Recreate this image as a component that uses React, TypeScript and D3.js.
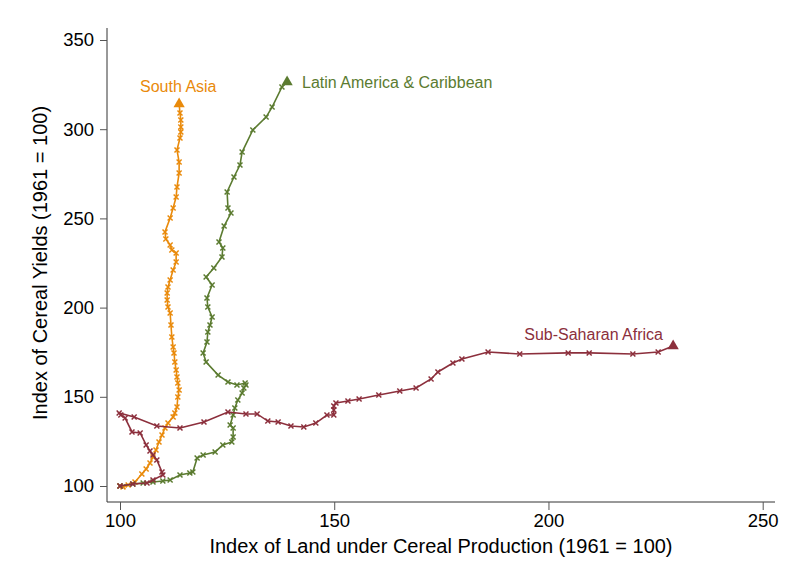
import React, { useEffect, useRef } from 'react';
import * as d3 from 'd3';

// [land index, yield index] per year
const southAsia: [number, number][] = [
  [100, 100], [100.7, 99.5], [101.9, 100.6], [103.5, 102.2], [105.1, 106.7], [106.1, 109.5],
  [107.0, 112.9], [107.7, 116.3], [108.4, 120.2], [109.1, 124.7], [109.8, 128.6], [110.5, 132.5],
  [111.2, 135.3], [112.4, 138.7], [112.8, 140.9], [113.3, 144.3], [113.5, 149.9], [113.8, 153.8],
  [113.5, 157.7], [113.3, 161.1], [113.1, 165.0], [112.8, 169.5], [112.6, 174.6], [112.4, 177.9],
  [112.1, 183.5], [111.9, 190.2], [111.7, 197.0], [111.2, 200.3], [111.0, 204.3], [111.0, 208.2],
  [111.2, 211.5], [111.7, 215.5], [112.4, 221.1], [113.1, 225.6], [113.1, 230.6], [112.1, 232.3],
  [111.7, 235.1], [110.7, 238.5], [110.5, 242.4], [111.7, 250.2], [112.4, 255.8], [113.1, 262.0],
  [113.3, 267.6], [113.8, 275.4], [113.8, 281.6], [113.3, 288.3], [114.0, 295.1], [114.2, 298.4],
  [114.2, 301.2], [114.2, 305.2], [114.0, 309.1], [113.8, 314.1],
];

const latinAmerica: [number, number][] = [
  [100, 100], [103.0, 101.1], [105.4, 101.7], [107.7, 102.2], [110.0, 102.8], [111.7, 103.4],
  [114.0, 106.2], [116.3, 107.3], [117.0, 107.8], [118.0, 115.7], [119.4, 117.4], [122.2, 119.1],
  [124.0, 123.0], [126.1, 124.7], [126.4, 127.5], [126.4, 132.5], [125.7, 134.2], [126.4, 139.8],
  [126.8, 143.7], [127.5, 148.2], [128.5, 152.1], [128.9, 154.9], [129.4, 156.6], [129.2, 157.7],
  [127.3, 156.6], [125.2, 158.3], [122.9, 162.2], [120.1, 169.5], [119.4, 174.6], [120.3, 180.7],
  [120.5, 186.3], [121.0, 190.2], [121.5, 194.7], [120.5, 200.3], [120.3, 205.4], [121.5, 212.7],
  [120.1, 217.2], [121.9, 222.2], [123.8, 228.4], [124.0, 233.4], [123.1, 236.8], [124.3, 245.7],
  [125.9, 253.0], [125.2, 255.8], [125.0, 264.8], [126.6, 273.2], [128.0, 279.9], [128.5, 287.2],
  [131.0, 299.6], [134.1, 306.8], [135.5, 312.4], [137.8, 323.7], [139.0, 326.5],
];

const subSaharan: [number, number][] = [
  [100, 100], [103.0, 101.1], [106.3, 101.7], [107.7, 103.4], [110.0, 106.2], [109.8, 107.8],
  [108.6, 114.6], [107.7, 117.4], [107.0, 119.6], [106.1, 123.0], [104.7, 129.7], [102.8, 130.3],
  [101.2, 138.1], [100.2, 139.8], [99.8, 140.9], [103.3, 138.7], [108.6, 133.6], [114.0, 132.5],
  [119.6, 135.9], [125.2, 141.5], [129.4, 140.4], [132.0, 140.4], [134.5, 136.4], [136.9, 135.9],
  [139.9, 133.6], [142.9, 133.1], [145.7, 135.3], [148.3, 139.8], [149.9, 139.8], [149.9, 142.6],
  [149.9, 144.8], [150.4, 146.5], [153.2, 147.6], [155.8, 148.8], [160.4, 151.0], [165.3, 153.3],
  [169.1, 154.9], [172.6, 160.0], [174.2, 163.9], [177.7, 168.9], [179.8, 171.2], [185.9, 175.1],
  [193.3, 174.0], [204.6, 174.6], [209.5, 174.6], [219.7, 174.0], [225.6, 175.1], [229.1, 178.5],
];

const xTicks = [100, 150, 200, 250];
const yTicks = [100, 150, 200, 250, 300, 350];

const series = [
  { name: 'South Asia', data: southAsia, color: '#e98a0b', label: { x: 140, y: 92, anchor: 'start' } },
  { name: 'Latin America & Caribbean', data: latinAmerica, color: '#5b7b30', label: { x: 302, y: 88, anchor: 'start' } },
  { name: 'Sub-Saharan Africa', data: subSaharan, color: '#8c2f3c', label: { x: 663, y: 340, anchor: 'end' } },
];

const App: React.FC = () => {
  const ref = useRef<SVGSVGElement | null>(null);

  useEffect(() => {
    if (!ref.current) return;
    const svg = d3.select(ref.current);
    svg.selectAll('*').remove();
    const font = 'Liberation Sans, Arial, sans-serif';

    const x = d3.scaleLinear().domain([100, 250]).range([120, 762.7]);
    const y = d3.scaleLinear().domain([100, 350]).range([486, 40]);

    svg.append('rect').attr('width', 785).attr('height', 576).attr('fill', '#fff');

    // y axis
    const yAxis = svg.append('g').attr('transform', 'translate(107,0)')
      .call(d3.axisLeft(y).tickValues(yTicks).tickSize(7).tickPadding(6).tickFormat(d3.format('d')));
    yAxis.select('.domain').attr('d', 'M0,28V502').attr('stroke', '#333');
    yAxis.selectAll('.tick line').attr('stroke', '#555');
    yAxis.selectAll('.tick text').attr('font-family', font).attr('font-size', 18.5).attr('fill', '#000');

    // x axis
    const xAxis = svg.append('g').attr('transform', 'translate(0,502)')
      .call(d3.axisBottom(x).tickValues(xTicks).tickSize(8).tickPadding(4).tickFormat(d3.format('d')));
    xAxis.select('.domain').attr('d', 'M107,0H775').attr('stroke', '#333');
    xAxis.selectAll('.tick line').attr('stroke', '#555');
    xAxis.selectAll('.tick text').attr('font-family', font).attr('font-size', 18.5).attr('fill', '#000');

    svg.append('text')
      .attr('x', 441).attr('y', 553)
      .attr('text-anchor', 'middle')
      .attr('font-family', font).attr('font-size', 20)
      .text('Index of Land under Cereal Production (1961 = 100)');

    svg.append('text')
      .attr('transform', 'translate(47,263) rotate(-90)')
      .attr('text-anchor', 'middle')
      .attr('font-family', font).attr('font-size', 20)
      .text('Index of Cereal Yields (1961 = 100)');

    const line = d3.line<[number, number]>().x(d => x(d[0])).y(d => y(d[1]));
    const cross = d3.symbol().type(d3.symbolX).size(18)();
    const tri = d3.symbol().type(d3.symbolTriangle).size(55)();

    series.forEach(s => {
      const g = svg.append('g');
      g.append('path').datum(s.data).attr('d', line)
        .attr('fill', 'none').attr('stroke', s.color).attr('stroke-width', 1.6);
      g.selectAll('.m').data(s.data.slice(0, -1)).enter().append('path')
        .attr('transform', d => `translate(${x(d[0])},${y(d[1])})`)
        .attr('d', cross as string)
        .attr('fill', 'none').attr('stroke', s.color).attr('stroke-width', 1.5);
      const last = s.data[s.data.length - 1];
      g.append('path')
        .attr('transform', `translate(${x(last[0])},${y(last[1])})`)
        .attr('d', tri as string).attr('fill', s.color);
      g.append('text')
        .attr('x', s.label.x).attr('y', s.label.y)
        .attr('text-anchor', s.label.anchor)
        .attr('font-family', font).attr('font-size', 16)
        .attr('fill', s.color)
        .text(s.name);
    });
  }, []);

  return (
    <svg ref={ref} width={785} height={576}
      style={{ position: 'absolute', left: 0, top: 0, display: 'block' }} />
  );
};

export default App;
